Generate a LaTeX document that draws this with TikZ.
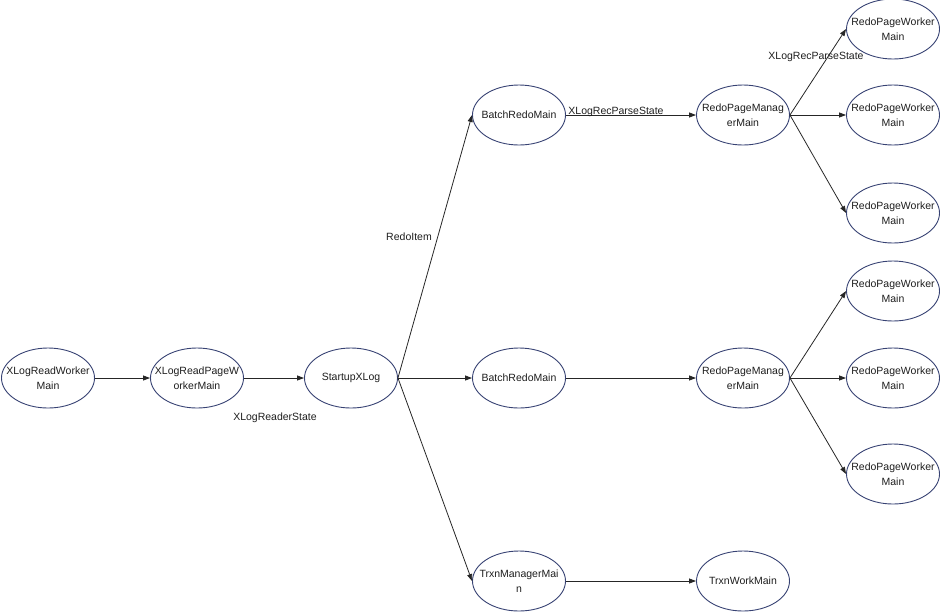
\documentclass[tikz,border=0pt]{standalone}
\usepackage{fontspec}
\setmainfont{Liberation Sans}
\usetikzlibrary{shapes.geometric,arrows.meta}
\definecolor{ellc}{RGB}{55,66,115}
\definecolor{txt}{RGB}{30,30,30}
\tikzset{
  proctext/.style={align=center, text=txt, font=\fontsize{10.5}{15}\selectfont, inner sep=0pt},
  proc/.style={ellipse, draw=ellc, line width=0.9pt, minimum width=93pt, minimum height=60pt, inner sep=0pt, label={[proctext]center:#1}},
  conn/.style={draw=black!85, line width=0.8pt, -{Triangle[length=7pt,width=5pt]}},
  lbl/.style={text=txt, font=\fontsize{10.5}{13}\selectfont, inner sep=0pt}
}
\begin{document}
\begin{tikzpicture}[x=1pt,y=-1pt]
\useasboundingbox (0,0) rectangle (940,611);
\node[proc={XLogReadWorker\\Main}] (rw) at (48,378) {};
\node[proc={XLogReadPageW\\orkerMain}] (rpw) at (197,378) {};
\node[proc={StartupXLog}] (su) at (351,378) {};
\node[proc={BatchRedoMain}] (b1) at (519,115) {};
\node[proc={BatchRedoMain}] (b2) at (519,378) {};
\node[proc={TrxnManagerMai\\n}] (tm) at (519,581) {};
\node[proc={RedoPageManag\\erMain}] (m1) at (743,115) {};
\node[proc={RedoPageManag\\erMain}] (m2) at (743,378) {};
\node[proc={TrxnWorkMain}] (tw) at (743,581) {};
\node[proc={RedoPageWorker\\Main}] (w1) at (893,29) {};
\node[proc={RedoPageWorker\\Main}] (w2) at (893,115) {};
\node[proc={RedoPageWorker\\Main}] (w3) at (893,213) {};
\node[proc={RedoPageWorker\\Main}] (w4) at (893,291) {};
\node[proc={RedoPageWorker\\Main}] (w5) at (893,378) {};
\node[proc={RedoPageWorker\\Main}] (w6) at (893,474) {};

\draw[conn] (rw) -- (rpw);
\draw[conn] (rpw) -- (su);
\draw[conn] (su.east) -- (b1.west);
\draw[conn] (su.east) -- (b2.west);
\draw[conn] (su.east) -- (tm.west);
\draw[conn] (b1) -- (m1);
\draw[conn] (b2) -- (m2);
\draw[conn] (tm) -- (tw);
\foreach \w in {w1,w2,w3} \draw[conn] (m1.east) -- (\w.west);
\foreach \w in {w4,w5,w6} \draw[conn] (m2.east) -- (\w.west);

\node[lbl] (l1) at (275,418) {XLogReaderState};
\node[lbl] (l2) at (409,237) {RedoItem};
\node[lbl, anchor=base] (l3) at (616,114) {XLogRecParseState};
\node[lbl] (l4) at (816,57) {XLogRecParseState};
\end{tikzpicture}
\end{document}
